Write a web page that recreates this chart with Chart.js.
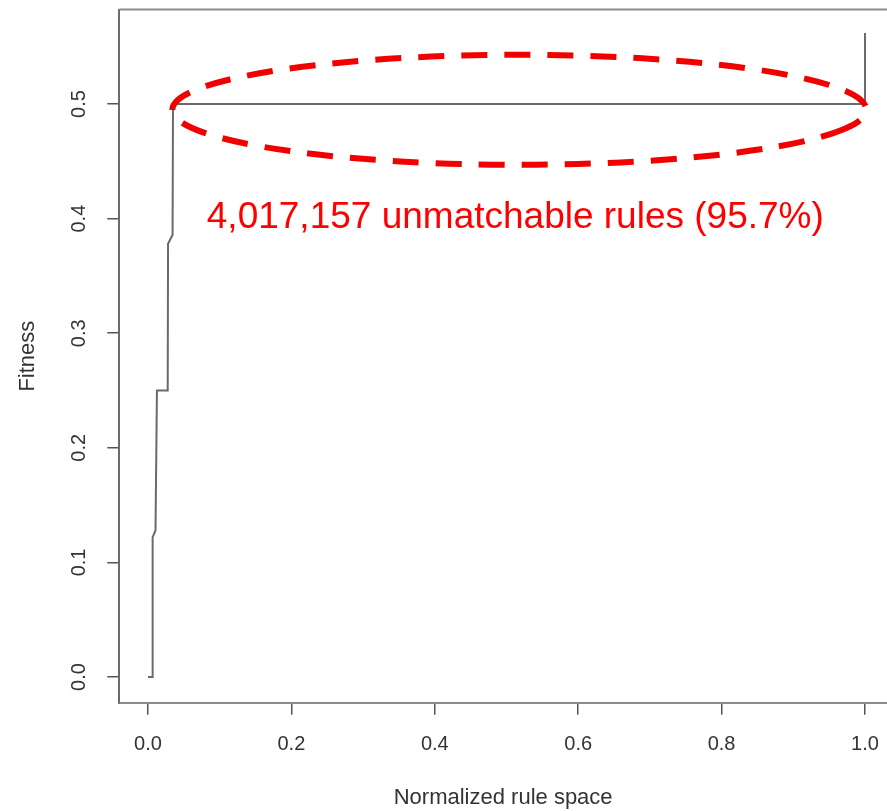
<!DOCTYPE html>
<html>
<head>
<meta charset="utf-8">
<script src="https://cdn.jsdelivr.net/npm/chart.js@4.4.1/dist/chart.umd.min.js"></script>
<style>
html, body { margin: 0; padding: 0; background: #fff; overflow: hidden; }
#wrap { width: 887px; height: 811px; }
</style>
</head>
<body>
<div id="wrap"><canvas id="fitnessChart" width="887" height="811"></canvas></div>
<script>
// Sorted fitness over the normalized rule space
const ruleSpace = [0, 0.006, 0.0065, 0.0105, 0.0125, 0.0275, 0.028, 0.0343, 0.0349, 0.9955, 0.999, 1.0, 1.0];
const fitness   = [0, 0, 0.122, 0.128, 0.25, 0.25, 0.378, 0.386, 0.5, 0.5, 0.503, 0.51, 0.562];

const xTicks = [0, 0.2, 0.4, 0.6, 0.8, 1.0];
const yTicks = [0, 0.1, 0.2, 0.3, 0.4, 0.5];

const xTitle = 'Normalized rule space';
const yTitle = 'Fitness';
const noteText = '4,017,157 unmatchable rules (95.7%)';

const FONT = "'Liberation Sans', Arial, Helvetica, sans-serif";

// fixed axis sizes, no extra label padding, so the plot box lands where R put it
function fixSize(prop, size) {
    return s => {
        s[prop] = size;
        s.paddingTop = 0;
        s.paddingBottom = 0;
        s.paddingLeft = 0;
        s.paddingRight = 0;
    };
}

// box top + red annotation (dashed ellipse round the plateau, text below it)
const rFrame = {
    id: 'rFrame',
    beforeDatasetsDraw(chart) {
        const { ctx, chartArea: a } = chart;
        ctx.save();
        ctx.strokeStyle = '#8c8c8c';
        ctx.lineWidth = 2;
        ctx.beginPath();
        ctx.moveTo(a.left, a.top);
        ctx.lineTo(a.right, a.top);
        ctx.stroke();
        ctx.restore();
    },
    afterDatasetsDraw(chart) {
        const { ctx, scales: { x, y } } = chart;
        const cx = x.getPixelForValue(0.518);
        const cy = y.getPixelForValue(0.495);
        const rx = x.getPixelForValue(0.484) - x.getPixelForValue(0);
        const ry = y.getPixelForValue(0) - y.getPixelForValue(0.048);
        ctx.save();
        ctx.strokeStyle = '#f20000';
        ctx.lineWidth = 6;
        ctx.setLineDash([26, 17]);
        ctx.beginPath();
        ctx.ellipse(cx, cy, rx, ry, 0, 0.35, 0.35 + Math.PI * 2);
        ctx.stroke();
        ctx.setLineDash([]);
        ctx.fillStyle = '#ff0000';
        ctx.font = '37px ' + FONT;
        ctx.textAlign = 'left';
        ctx.textBaseline = 'alphabetic';
        ctx.fillText(noteText, x.getPixelForValue(0.082), y.getPixelForValue(0.392));
        ctx.restore();
    }
};

const ctx = document.getElementById('fitnessChart').getContext('2d');
new Chart(ctx, {
    type: 'scatter',
    data: {
        datasets: [{
            data: ruleSpace.map((v, i) => ({ x: v, y: fitness[i] })),
            showLine: true,
            borderColor: '#6a6a6a',
            borderWidth: 2,
            pointRadius: 0,
            tension: 0
        }]
    },
    options: {
        responsive: false,
        animation: false,
        devicePixelRatio: 1,
        layout: { padding: { top: 9.6, right: 0, bottom: 0, left: 0 } },
        plugins: {
            legend: { display: false },
            tooltip: { enabled: false }
        },
        scales: {
            x: {
                type: 'linear',
                min: -0.04,
                max: 1.0307,
                afterBuildTicks: s => { s.ticks = xTicks.map(v => ({ value: v })); },
                afterFit: fixSize('height', 108.3),
                border: { display: true, color: '#8c8c8c', width: 2 },
                grid: { display: true, drawOnChartArea: false, drawTicks: true, tickLength: 12, color: '#555', lineWidth: 1.5 },
                ticks: {
                    padding: 18,
                    color: '#333',
                    font: { family: FONT, size: 20 },
                    maxRotation: 0,
                    callback: v => v.toFixed(1)
                },
                title: {
                    display: true,
                    text: xTitle,
                    color: '#333',
                    font: { family: FONT, size: 22 },
                    padding: { top: 0, bottom: 0 }
                }
            },
            y: {
                type: 'linear',
                min: -0.0224,
                max: 0.5824,
                afterBuildTicks: s => { s.ticks = yTicks.map(v => ({ value: v })); },
                afterFit: fixSize('width', 119.3),
                border: { display: true, color: '#6a6a6a', width: 2 },
                grid: { display: true, drawOnChartArea: false, drawTicks: true, tickLength: 12, color: '#555', lineWidth: 1.5 },
                ticks: {
                    padding: 14,
                    color: '#333',
                    font: { family: FONT, size: 20 },
                    minRotation: 90,
                    maxRotation: 90,
                    crossAlign: 'center',
                    callback: v => v.toFixed(1)
                },
                title: {
                    display: true,
                    text: yTitle,
                    color: '#333',
                    font: { family: FONT, size: 22 },
                    padding: { top: 15, bottom: 0 }
                }
            }
        }
    },
    plugins: [rFrame]
});
</script>
</body>
</html>
